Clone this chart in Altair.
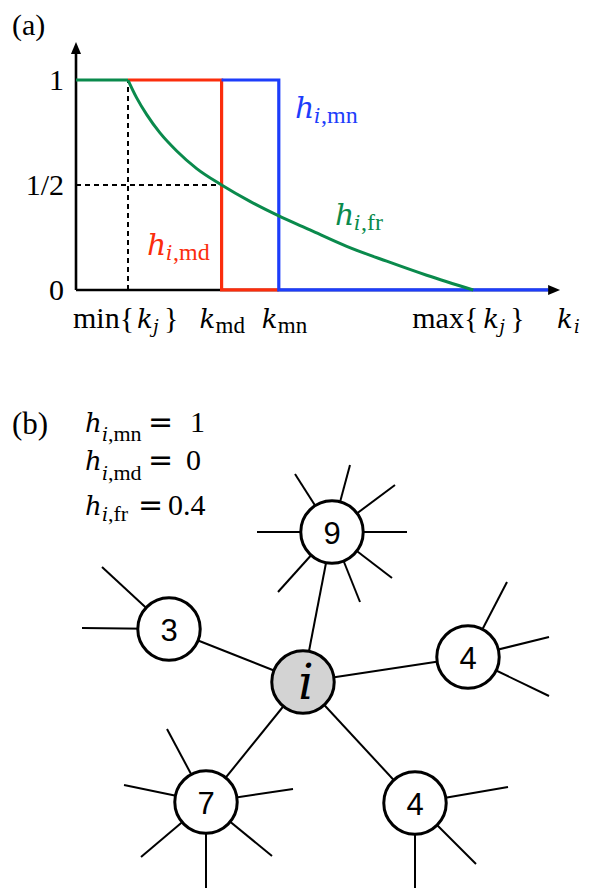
import altair as alt
import pandas as pd

SERIF = "Liberation Serif"
ITAL = "DejaVu Serif"
SANS = "Liberation Sans"
BLUE, RED, GREEN = "#1d3dfb", "#fb2d0c", "#0a8a4c"

# ---------------- panel (a) values ----------------
K_MIN, K_MD, K_MN, K_MAX = 1.0, 2.80, 3.90, 7.64
K_END = 9.31      # tip of the k axis arrow
H_END = 1.181     # tip of the h axis arrow
K_BLUE_END = 9.08
H_TICKS = [0, 0.5, 1]
H_TICK_LABELS = ["0", "1/2", "1"]

MN_K = [K_MD, K_MN, K_MN, K_BLUE_END]
MN_H = [1, 1, 0, 0]
MD_K = [K_MIN, K_MD, K_MD, K_MN]
MD_H = [1, 1, 0, 0]
FR_FLAT_K = [0, K_MIN]
FR_FLAT_H = [1, 1]
FR_K = [1.0, 1.167, 1.36, 1.615, 1.937, 2.321, 2.80, 3.346, 3.89, 4.50, 5.206, 5.975, 6.744, 7.64]
FR_H = [1.0, 0.915, 0.835, 0.748, 0.662, 0.578, 0.500, 0.422, 0.354, 0.286, 0.208, 0.137, 0.070, 0.0]

# ---------------- panel (b) values ----------------
NODE_LABELS = ["i", "9", "4", "3", "7", "4"]
NODE_X = [0, 2.9, 16.5, -13.4, -9.7, 11.2]
NODE_Y = [0, 15.0, 2.5, 5.3, -12.0, -12.1]
NODE_FILL = ["#d3d3d3", "white", "white", "white", "white", "white"]

STUB_NODE = [1] * 8 + [2] * 3 + [3] * 2 + [4] * 6 + [5] * 3
STUB_DX = [-7.5, 7.5, -3.7, 1.8, 6.3, -5.4, 6.0, 2.8,
           3.9, 8.1, 8.1,
           -6.7, -8.7,
           -3.9, -8.2, 8.7, -6.5, 6.6, 0.0,
           9.3, 6.1, 0.0]
STUB_DY = [0.0, 0.0, 5.8, 6.7, 4.7, -6.0, -4.6, -7.0,
           7.5, 2.0, -3.9,
           6.2, 0.1,
           7.3, 1.7, 1.3, -5.5, -5.4, -8.8,
           1.6, -6.1, -8.8]

H_NAMES = [",mn", ",md", ",fr"]
H_VALUES = ["1", "0", "0.4"]

# ---------------- scales ----------------
XA = alt.Scale(domain=[-1.3077, 9.904], nice=False, zero=False)
YA = alt.Scale(domain=[-0.324, 1.343], nice=False, zero=False)
XB = alt.Scale(domain=[-29.5, 28.8], nice=False, zero=False)
YB = alt.Scale(domain=[-19.8, 32.4], nice=False, zero=False)


def enc(xs, ys):
    return dict(x=alt.X("x:Q", scale=xs, axis=None), y=alt.Y("y:Q", scale=ys, axis=None))


def line_layer(xv, yv, color, width=3.0, interp="linear", dash=None, xs=XA, ys=YA):
    df = pd.DataFrame({"x": xv, "y": yv, "o": list(range(len(xv)))})
    kw = dict(color=color, strokeWidth=width, interpolate=interp, strokeCap="butt")
    if dash:
        kw["strokeDash"] = dash
    return alt.Chart(df).mark_line(**kw).encode(order="o:Q", **enc(xs, ys))


def text_layer(xv, yv, t, dx=0, dy=0, size=30, style="normal", color="black",
               font=None, align="left", xs=XA, ys=YA):
    if font is None:
        font = ITAL if style == "italic" else SERIF
    df = pd.DataFrame({"x": [xv], "y": [yv], "t": [t]})
    return alt.Chart(df).mark_text(
        dx=dx, dy=dy, fontSize=size, fontStyle=style, color=color, font=font,
        align=align, baseline="alphabetic"
    ).encode(text="t:N", **enc(xs, ys))


# ================= panel (a) =================
a_layers = []
# axes
a_layers.append(line_layer([0, 0], [0, H_END - 0.03], "black", 2.6))
a_layers.append(line_layer([0, K_END - 0.15], [0, 0], "black", 2.6))
arrows = pd.DataFrame({"x": [0, K_END], "y": [H_END, 0], "s": ["up", "right"]})
a_layers.append(
    alt.Chart(arrows[arrows.s == "up"]).mark_point(
        shape="M0,0L-0.42,1L0.42,1Z", size=576, filled=True, color="black", opacity=1, strokeWidth=0
    ).encode(**enc(XA, YA))
)
a_layers.append(
    alt.Chart(arrows[arrows.s == "right"]).mark_point(
        shape="M0,0L-1,-0.42L-1,0.42Z", size=576, filled=True, color="black", opacity=1, strokeWidth=0
    ).encode(**enc(XA, YA))
)
# dashed guides
a_layers.append(line_layer([K_MIN, K_MIN], [0, 1], "black", 2.0, dash=[5, 4]))
a_layers.append(line_layer([0, K_MD], [0.5, 0.5], "black", 2.0, dash=[5, 4]))
# curves
a_layers.append(line_layer(MD_K, MD_H, RED, 3.2))
a_layers.append(line_layer(MN_K, MN_H, BLUE, 3.2))
a_layers.append(line_layer(FR_FLAT_K, FR_FLAT_H, GREEN, 3.2))
a_layers.append(line_layer(FR_K, FR_H, GREEN, 3.0, interp="monotone"))

# tick labels (h)
for hv, lab in zip(H_TICKS, H_TICK_LABELS):
    a_layers.append(text_layer(0, hv, lab, dx=-12, dy=10, size=30, align="right"))

# tick labels (k) built from pieces
XT_BASE = 38
pieces = [
    (K_MIN, [("min{", -55, 0, "normal", 30), ("k", 9, 0, "italic", 26),
             ("j", 25, 5, "italic", 18), ("}", 36, 0, "normal", 30)]),
    (K_MD, [("k", -22, 0, "italic", 26), ("md", -6, 5, "normal", 23)]),
    (K_MN, [("k", -17, 0, "italic", 26), ("mn", -1, 5, "normal", 23)]),
    (K_MAX, [("max{", -61, 0, "normal", 30), ("k", 10, 0, "italic", 26),
             ("j", 26, 5, "italic", 18), ("}", 37, 0, "normal", 30)]),
    (K_END, [("k", -3, 0, "italic", 26), ("i", 14, 5, "italic", 18)]),
]
for kv, plist in pieces:
    for t, dx, dy, st, sz in plist:
        a_layers.append(text_layer(kv, 0, t, dx=dx, dy=XT_BASE + dy, size=sz, style=st))

# coloured function labels
for (kx, hy, name, col) in [(4.212, 0.819, ",mn", BLUE), (4.981, 0.31, ",fr", GREEN),
                            (1.365, 0.167, ",md", RED)]:
    a_layers.append(text_layer(kx, hy, "h", size=30, style="italic", color=col))
    a_layers.append(text_layer(kx, hy, "i", dx=19, dy=5, size=20, style="italic", color=col))
    a_layers.append(text_layer(kx, hy, name, dx=26, dy=5, size=24, color=col))

a_layers.append(text_layer(-1.231, 1.215, "(a)", size=30))

panel_a = alt.layer(*a_layers).properties(width=583, height=350)

# ================= panel (b) =================
nodes = pd.DataFrame({"x": NODE_X, "y": NODE_Y, "lab": NODE_LABELS, "fill": NODE_FILL})
edges = pd.DataFrame({
    "x": [NODE_X[0]] * 5, "y": [NODE_Y[0]] * 5,
    "x2": NODE_X[1:], "y2": NODE_Y[1:],
})
stubs = pd.DataFrame({
    "x": [NODE_X[n] for n in STUB_NODE],
    "y": [NODE_Y[n] for n in STUB_NODE],
    "x2": [NODE_X[n] + d for n, d in zip(STUB_NODE, STUB_DX)],
    "y2": [NODE_Y[n] + d for n, d in zip(STUB_NODE, STUB_DY)],
})

b_layers = []
for df in (stubs, edges):
    b_layers.append(
        alt.Chart(df).mark_rule(color="black", strokeWidth=2.0).encode(
            x2="x2:Q", y2="y2:Q", **enc(XB, YB)
        )
    )
b_layers.append(
    alt.Chart(nodes).mark_point(
        shape="circle", size=3900, filled=True, opacity=1, stroke="black", strokeWidth=3
    ).encode(fill=alt.Fill("fill:N", scale=None), **enc(XB, YB))
)
b_layers.append(
    alt.Chart(nodes[nodes.lab != "i"]).mark_text(
        font=SANS, fontSize=31, align="center", baseline="alphabetic", dy=11.5, color="black"
    ).encode(text="lab:N", **enc(XB, YB))
)
b_layers.append(
    alt.Chart(nodes[nodes.lab == "i"]).mark_text(
        font=ITAL, fontSize=48, fontStyle="italic", align="center", baseline="alphabetic",
        dx=3, dy=17, color="black"
    ).encode(text="lab:N", **enc(XB, YB))
)

b_layers.append(text_layer(-29.1, 24.8, "(b)", size=31, xs=XB, ys=YB))
ROW_Y = [25.0, 21.2, 16.7]
SUB_DY = [9, 10, 6]
EQ_DX = [63, 63, 53]
VAL_DX = [105, 101, 83]
for yv, nm, val, sdy, edx, vdx in zip(ROW_Y, H_NAMES, H_VALUES, SUB_DY, EQ_DX, VAL_DX):
    b_layers.append(text_layer(-21.8, yv, "h", size=26, style="italic", xs=XB, ys=YB))
    b_layers.append(text_layer(-21.8, yv, "i", dx=17, dy=sdy, size=19, style="italic", xs=XB, ys=YB))
    b_layers.append(text_layer(-21.8, yv, nm, dx=23, dy=sdy, size=22, xs=XB, ys=YB))
    b_layers.append(text_layer(-21.8, yv, "=", dx=edx, size=30, font="DejaVu Sans", xs=XB, ys=YB))
    b_layers.append(text_layer(-21.8, yv, val, dx=vdx, size=30, xs=XB, ys=YB))

panel_b = alt.layer(*b_layers).properties(width=583, height=522)

chart = (
    alt.vconcat(panel_a, panel_b, spacing=0)
    .resolve_scale(x="independent", y="independent")
    .properties(padding=0, background="white")
    .configure_view(stroke=None)
)

chart.save("out.html", embed_options={"renderer": "svg", "actions": False})
